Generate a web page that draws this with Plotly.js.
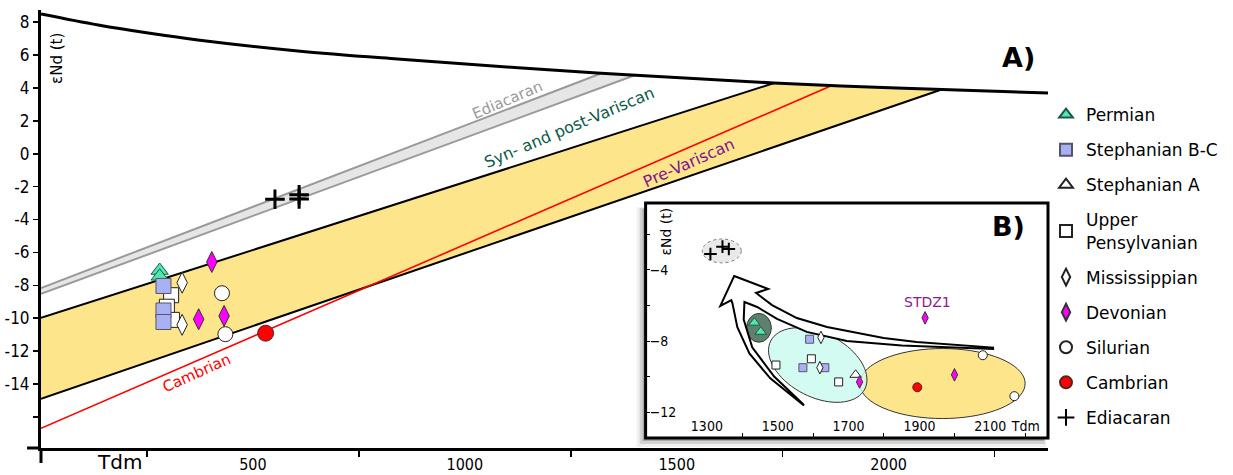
<!DOCTYPE html>
<html>
<head>
<meta charset="utf-8">
<script src="https://cdn.plot.ly/plotly-3.0.1.min.js"></script>
<style>
  html, body { margin: 0; padding: 0; background: #fff; }
  #chart { width: 1233px; height: 475px; }
</style>
</head>
<body>
<div id="chart"></div>
<script>
// ---------- Depleted-mantle evolution curve (Tdm in Ma, εNd) ----------
const dmT = [0, 135, 253, 370, 606, 841, 1312, 1729, 2019, 2376];
const dmE = [8.50, 7.83, 7.34, 6.92, 6.25, 5.76, 4.91, 4.30, 4.00, 3.69];

// ---------- Crustal evolution lines ----------
const grayUpperT = [0, 1321], grayUpperE = [-8.16, 4.88];
const grayLowerT = [0, 1401], grayLowerE = [-8.52, 4.77];
const grayBandT = [0, 1321, 1401, 0];
const grayBandE = [-8.16, 4.88, 4.77, -8.52];

const yellowUpperT = [0, 1730], yellowUpperE = [-9.98, 4.30];
const yellowLowerT = [0, 2125], yellowLowerE = [-14.90, 3.91];
const yellowBandT = [0, 1730, 2019, 2125, 0];
const yellowBandE = [-9.98, 4.30, 4.00, 3.91, -14.90];

const redT = [0, 1866], redE = [-16.69, 4.15];

// ---------- Samples, panel A ----------
const permianT = [280, 280],           permianE = [-7.10, -7.45];
const stephBCT = [289, 289, 289],      stephBCE = [-8.04, -9.53, -10.23];
const upperPenT = [307, 297, 309],     upperPenE = [-8.60, -9.30, -10.10];
const missT = [333, 333],              missE = [-7.84, -10.40];
const devonT = [403, 372, 432],        devonE = [-6.58, -10.06, -9.86];
const silurT = [427, 435],             silurE = [-8.48, -10.97];
const cambT = [530],                   cambE = [-10.91];
const ediaT = [552, 609, 609],         ediaE = [-2.77, -2.50, -2.75];

// ---------- Samples, panel B ----------
const bPermianT = [1434, 1452],        bPermianE = [-6.97, -7.48];
const bStephBCT = [1590, 1571, 1633],  bStephBCE = [-7.90, -9.50, -9.50];
const bStephAT = [1720],               bStephAE = [-9.90];
const bUpperPenT = [1495, 1595, 1672], bUpperPenE = [-9.35, -9.00, -10.30];
const bMissT = [1622, 1619],           bMissE = [-7.80, -9.50];
const bDevonT = [1731, 1999, 1916],    bDevonE = [-10.30, -9.90, -6.70];
const bSilurT = [2079, 2168],          bSilurE = [-8.80, -11.10];
const bCambT = [1894],                 bCambE = [-10.60];
const bEdiaT = [1310, 1344, 1362],     bEdiaE = [-3.11, -2.70, -2.83];

// ---------- Axis ticks ----------
const xMainTicks = [500, 1000, 1500, 2000];
const xMainMinor = [250, 750, 1250, 1750, 2250];
const yMainTicks = [-16, -14, -12, -10, -8, -6, -4, -2, 0, 2, 4, 6, 8];
const yMainText = ['', '-14', '-12', '-10', '-8', '-6', '-4', '-2', '0', '2', '4', '6', '8'];
const xInsetTicks = [1300, 1500, 1700, 1900, 2100, 2200];
const xInsetText = ['1300', '1500', '1700', '1900', '2100', 'Tdm'];
const xInsetMinor = [1400, 1600, 1800, 2000, 2200];
const yInsetTicks = [-4, -8, -12];
const yInsetMinor = [-2, -6, -10];

// ---------- Page geometry ----------
const W = 1233, H = 475;
const M = { l: 41, r: 181, t: 10, b: 27 };
const PW = W - M.l - M.r, PH = H - M.t - M.b;
const px = x => (x - M.l) / PW;          // pixel column -> paper x
const py = y => 1 - (y - M.t) / PH;      // pixel row -> paper y

const xMainRange = [0, 2376], yMainRange = [-17.89, 8.74];
const inset = { x0: 648, x1: 1052, y0: 203, y1: 438 };
const xInsetRange = [1127, 2263], yInsetRange = [-13.45, -0.247];
const kx = (inset.x1 - inset.x0) / (xInsetRange[1] - xInsetRange[0]);
const ky = (inset.y1 - inset.y0) / (yInsetRange[1] - yInsetRange[0]);

const FONT = 'DejaVu Sans Condensed, DejaVu Sans, sans-serif';
const FONT_W = 'DejaVu Sans, sans-serif';

// ---------- Marker styles ----------
const styles = {
  permian:  { name: 'Permian', symbol: 'triangle-up', color: '#52e6ad', line: '#1d5a45', size: 15, bsize: 10, rank: 1 },
  stephBC:  { name: 'Stephanian B-C', symbol: 'square', color: '#aab0f4', line: '#555566', size: 15, bsize: 8, rank: 2 },
  stephA:   { name: 'Stephanian A', symbol: 'triangle-up', color: '#ffffff', line: '#222', size: 15, bsize: 10, rank: 3 },
  upperPen: { name: 'Upper<br>Pensylvanian', symbol: 'square', color: '#ffffff', line: '#222', size: 15, bsize: 8, rank: 4 },
  miss:     { name: 'Mississippian', symbol: 'diamond-tall', color: '#ffffff', line: '#222', size: 15, bsize: 9, rank: 5 },
  devon:    { name: 'Devonian', symbol: 'diamond-tall', color: '#ff00ff', line: '#333', size: 15, bsize: 9, rank: 6 },
  silur:    { name: 'Silurian', symbol: 'circle', color: '#ffffff', line: '#222', size: 15, bsize: 9, rank: 7 },
  camb:     { name: 'Cambrian', symbol: 'circle', color: '#ff0000', line: '#552222', size: 16, bsize: 9, rank: 8 },
  edia:     { name: 'Ediacaran', symbol: 'cross-thin', color: '#000000', line: '#000', size: 14, bsize: 9, rank: 9 }
};

function pts(key, xs, ys, panelB, legend) {
  const s = styles[key];
  const isCross = s.symbol === 'cross-thin';
  return {
    type: 'scatter', mode: 'markers',
    x: xs, y: ys,
    xaxis: panelB ? 'x2' : 'x', yaxis: panelB ? 'y2' : 'y',
    name: s.name, legendgroup: key, legendrank: s.rank,
    showlegend: legend,
    marker: {
      symbol: s.symbol, size: panelB ? s.bsize : s.size, color: s.color,
      line: { color: s.line, width: isCross ? (panelB ? 2 : 3) : 1 }
    },
    hoverinfo: 'skip'
  };
}

function line(xs, ys, color, width, shape) {
  return { type: 'scatter', mode: 'lines', x: xs, y: ys, xaxis: 'x', yaxis: 'y',
           line: { color: color, width: width, shape: shape || 'linear', smoothing: 1 },
           showlegend: false, hoverinfo: 'skip' };
}
function band(xs, ys, color) {
  return { type: 'scatter', mode: 'lines', x: xs, y: ys, xaxis: 'x', yaxis: 'y',
           fill: 'toself', fillcolor: color, line: { width: 0 }, showlegend: false, hoverinfo: 'skip' };
}

const traces = [
  band(grayBandT, grayBandE, '#e6e6e6'),
  band(yellowBandT, yellowBandE, '#fde58b'),
  line(grayUpperT, grayUpperE, '#9a9a9a', 2),
  line(grayLowerT, grayLowerE, '#9a9a9a', 2),
  line(yellowUpperT, yellowUpperE, '#000', 2),
  line(yellowLowerT, yellowLowerE, '#000', 2),
  line(redT, redE, '#ff0000', 1.6),
  line(dmT, dmE, '#000', 3, 'spline'),

  pts('upperPen', upperPenT, upperPenE, false, true),
  pts('permian', permianT, permianE, false, true),
  pts('stephBC', stephBCT, stephBCE, false, true),
  pts('miss', missT, missE, false, true),
  pts('devon', devonT, devonE, false, true),
  pts('silur', silurT, silurE, false, true),
  pts('camb', cambT, cambE, false, true),
  pts('edia', ediaT, ediaE, false, true),

  pts('permian', bPermianT, bPermianE, true, false),
  pts('upperPen', bUpperPenT, bUpperPenE, true, false),
  pts('stephBC', bStephBCT, bStephBCE, true, false),
  pts('miss', bMissT, bMissE, true, false),
  pts('stephA', bStephAT, bStephAE, true, true),
  pts('devon', bDevonT, bDevonE, true, false),
  pts('silur', bSilurT, bSilurE, true, false),
  pts('camb', bCambT, bCambE, true, false),
  pts('edia', bEdiaT, bEdiaE, true, false)
];

// ---------- Panel B groupings (ellipses and arrow) ----------
function ellipse(cx, cy, rxPx, ryPx, angleDeg) {
  const a = angleDeg * Math.PI / 180;
  let d = '';
  for (let i = 0; i <= 72; i++) {
    const t = i / 72 * 2 * Math.PI;
    const ex = rxPx * Math.cos(t), ey = ryPx * Math.sin(t);
    const dx = ex * Math.cos(a) - ey * Math.sin(a);
    const dy = ex * Math.sin(a) + ey * Math.cos(a);   // screen y grows downward
    const X = cx + dx / kx, Y = cy - dy / ky;
    d += (i === 0 ? 'M' : 'L') + X.toFixed(2) + ',' + Y.toFixed(3);
  }
  return d + 'Z';
}

const arrowOutline = [
  [1377, -4.35], [1473, -5.08], [1439, -5.30],
  [1484, -5.98], [1554, -6.71], [1639, -7.21], [1799, -7.83], [1892, -8.06], [2108, -8.37],
  [2108, -8.45], [1850, -8.25], [1695, -8.00], [1582, -7.49], [1498, -6.76], [1442, -6.09],
  [1406, -5.81],
  [1404, -6.80], [1428, -8.35], [1490, -10.00], [1571, -11.54],
  [1574, -11.62], [1479, -10.10], [1420, -8.70], [1386, -7.22], [1372, -5.87],
  [1369, -5.70], [1338, -6.03]
];
const arrowPath = arrowOutline.map((p, i) => (i ? 'L' : 'M') + p[0] + ',' + p[1]).join('') + 'Z';

const shapes = [
  // inset drop shadow
  { type: 'rect', xref: 'paper', yref: 'paper', layer: 'below',
    x0: px(inset.x0 - 9), x1: px(inset.x1 - 2), y0: py(inset.y1 + 9), y1: py(inset.y0 + 4),
    fillcolor: 'rgba(0,0,0,0.06)', line: { width: 0 } },
  { type: 'rect', xref: 'paper', yref: 'paper', layer: 'below',
    x0: px(inset.x0 - 6), x1: px(inset.x1 - 3), y0: py(inset.y1 + 6), y1: py(inset.y0 + 5),
    fillcolor: 'rgba(0,0,0,0.12)', line: { width: 0 } },
  { type: 'rect', xref: 'paper', yref: 'paper', layer: 'below',
    x0: px(inset.x0 - 3), x1: px(inset.x1 - 4), y0: py(inset.y1 + 3), y1: py(inset.y0 + 6),
    fillcolor: 'rgba(0,0,0,0.2)', line: { width: 0 } },
  // inset frame
  { type: 'rect', xref: 'paper', yref: 'paper', layer: 'below',
    x0: px(inset.x0), x1: px(inset.x1), y0: py(inset.y1), y1: py(inset.y0),
    fillcolor: '#ffffff', line: { color: '#000', width: 3 } },
  // main axes run slightly past their crossing point
  { type: 'line', xref: 'paper', yref: 'paper', x0: px(27), x1: 0, y0: 0, y1: 0, line: { color: '#000', width: 3 } },
  { type: 'line', xref: 'paper', yref: 'paper', x0: 0, x1: 0, y0: 0, y1: py(463), line: { color: '#000', width: 3 } },

  // panel B groupings
  { type: 'circle', xref: 'x2', yref: 'y2', layer: 'below',
    x0: 1342 - 55, x1: 1342 + 55, y0: -2.94 - 0.67, y1: -2.94 + 0.67,
    fillcolor: '#e9e9e9', line: { color: '#777', width: 1, dash: 'dot' } },
  { type: 'path', xref: 'x2', yref: 'y2', layer: 'below',
    path: ellipse(1965, -10.39, 83, 35, 0),
    fillcolor: '#fde58b', line: { color: '#333', width: 1 } },
  { type: 'path', xref: 'x2', yref: 'y2', layer: 'below',
    path: ellipse(1613, -9.35, 53, 32, 27),
    fillcolor: 'rgba(205,250,240,0.85)', line: { color: '#333', width: 1 } },
  { type: 'circle', xref: 'x2', yref: 'y2', layer: 'below',
    x0: 1447 - 35, x1: 1447 + 35, y0: -7.26 - 0.81, y1: -7.26 + 0.81,
    fillcolor: '#5f806d', line: { color: '#2c3d33', width: 1 } },
  { type: 'path', xref: 'x2', yref: 'y2', layer: 'below',
    path: arrowPath, fillcolor: '#ffffff', line: { color: '#000', width: 2 } }
];

function note(xref, yref, x, y, text, size, color, angle) {
  return { xref: xref, yref: yref, x: x, y: y, text: text, textangle: angle || 0,
           xanchor: 'center', yanchor: 'middle', showarrow: false,
           font: { family: FONT_W, size: size, color: color } };
}

const annotations = [
  note('paper', 'paper', px(57), py(58), 'εNd (t)', 15, '#000', -90),
  note('paper', 'paper', px(120), py(462), 'Tdm', 20, '#000'),
  note('paper', 'paper', px(1022), py(57), '<b>A)</b>', 27, '#000'),
  note('paper', 'paper', px(1012), py(226), '<b>B)</b>', 27, '#000'),
  note('paper', 'paper', px(668), py(232), 'εNd (t)', 14, '#000', -90),

  note('x', 'y', 1100, 3.27, 'Ediacaran', 15, '#9a9a9a', -23),
  note('x', 'y', 1246, 1.57, 'Syn- and post-Variscan', 16, '#0b5b48', -23),
  note('x', 'y', 1530, -0.56, 'Pre-Variscan', 16, '#80168a', -24),
  note('x', 'y', 367, -13.3, 'Cambrian', 15, '#ff0000', -24),
  note('x2', 'y2', 1923, -5.81, 'STDZ1', 14, '#8a1a8a')
];

const layout = {
  width: W, height: H,
  margin: M,
  paper_bgcolor: '#ffffff',
  plot_bgcolor: 'rgba(0,0,0,0)',
  font: { family: FONT_W, color: '#000' },
  showlegend: true,
  legend: {
    x: px(1050), y: py(97), xanchor: 'left', yanchor: 'top',
    font: { family: FONT_W, size: 17, color: '#000' },
    bgcolor: 'rgba(0,0,0,0)', borderwidth: 0,
    tracegroupgap: 10, itemwidth: 30, itemsizing: 'constant', traceorder: 'grouped'
  },
  xaxis: {
    domain: [0, 1], range: xMainRange, anchor: 'y',
    showline: true, linecolor: '#000', linewidth: 3,
    showgrid: false, zeroline: false,
    tickmode: 'array', tickvals: xMainTicks, ticks: 'outside', ticklen: 0,
    ticklabelstandoff: 0,
    minor: { tickvals: xMainMinor, ticks: 'outside', ticklen: 6, tickwidth: 1.5, tickcolor: '#000' },
    tickfont: { family: FONT, size: 16, color: '#000' }
  },
  yaxis: {
    domain: [0, 1], range: yMainRange, anchor: 'x',
    showline: true, linecolor: '#000', linewidth: 3,
    showgrid: false, zeroline: false,
    tickmode: 'array', tickvals: yMainTicks, ticktext: yMainText,
    ticks: 'outside', ticklen: 5, tickwidth: 1.5, tickcolor: '#000',
    tickfont: { family: FONT, size: 17, color: '#000' }
  },
  xaxis2: {
    domain: [px(inset.x0), px(inset.x1)], range: xInsetRange, anchor: 'y2',
    showline: false, showgrid: false, zeroline: false,
    tickmode: 'array', tickvals: xInsetTicks, ticktext: xInsetText,
    ticks: 'inside', ticklen: 0, ticklabelposition: 'inside', ticklabelstandoff: 4,
    minor: { tickvals: xInsetMinor, ticks: 'inside', ticklen: 5, tickwidth: 1, tickcolor: '#000' },
    tickfont: { family: FONT, size: 14, color: '#000' }
  },
  yaxis2: {
    domain: [py(inset.y1), py(inset.y0)], range: yInsetRange, anchor: 'x2',
    showline: false, showgrid: false, zeroline: false,
    tickmode: 'array', tickvals: yInsetTicks,
    ticks: 'inside', ticklen: 4, tickwidth: 1, tickcolor: '#000',
    ticklabelposition: 'inside',
    minor: { tickvals: yInsetMinor, ticks: 'inside', ticklen: 4, tickwidth: 1, tickcolor: '#000' },
    tickfont: { family: FONT, size: 14, color: '#000' }
  },
  shapes: shapes,
  annotations: annotations
};

Plotly.newPlot('chart', traces, layout, { staticPlot: true, displayModeBar: false });
</script>
</body>
</html>
